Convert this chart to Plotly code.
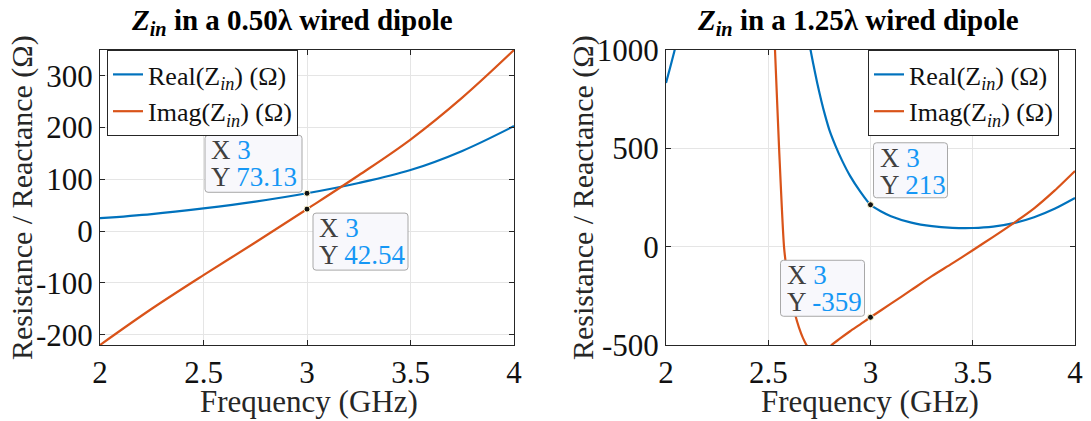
import plotly.graph_objects as go

# Input impedance of a 0.50-wavelength dipole (resonant at 3 GHz)
freq_half = [2.0, 2.25, 2.5, 2.75, 3.0, 3.25, 3.5, 3.75, 4.0]
real_half = [25, 33, 44, 57, 73.13, 93, 118, 155, 203]
imag_half = [-220, -150, -85, -22, 42.54, 108, 177, 258, 350]

# Input impedance of a 1.25-wavelength dipole
freq_long_re = [2.0, 2.02, 2.04, 2.07, 2.1, 2.2, 2.3, 2.4, 2.45, 2.5, 2.55, 2.6,
                2.65, 2.7, 2.72, 2.74, 2.76, 2.78, 2.8, 2.83, 2.86, 2.9, 2.95,
                3.0, 3.05, 3.1, 3.2, 3.3, 3.4, 3.5, 3.6, 3.7, 3.8, 3.9, 4.0]
real_long = [832, 910, 990, 1120, 1260, 1900, 2700, 3300, 3400, 3200, 2600, 1900,
             1420, 1040, 930, 830, 740, 660, 590, 510, 440, 360, 280,
             213, 180, 155, 122, 104, 96, 95, 102, 120, 150, 193, 248]
freq_long_im = [2.0, 2.1, 2.2, 2.3, 2.4, 2.45, 2.5, 2.52, 2.533, 2.553, 2.577,
                2.59, 2.606, 2.63, 2.65, 2.67, 2.69, 2.72, 2.75, 2.78, 2.81,
                2.85, 2.9, 2.95, 3.0, 3.1, 3.2, 3.3, 3.4, 3.5, 3.6, 3.7, 3.8,
                3.9, 4.0]
imag_long = [1300, 1800, 2300, 2600, 2500, 2200, 1750, 1300, 1000, 500, 0,
             -120, -236, -340, -410, -465, -505, -540, -550, -535, -500,
             -468, -430, -395, -359, -290, -220, -150, -85, -18, 50, 120, 195,
             285, 385]

# Data tips at 3 GHz
tip_freq = 3
tip_half = [73.13, 42.54]
tip_long = [213, -359]

x_ticks = [2, 2.5, 3, 3.5, 4]
y_ticks_half = [-200, -100, 0, 100, 200, 300]
y_ticks_long = [-500, 0, 500, 1000]

BLUE = "#0072BD"
ORANGE = "#D95319"
TIP_BLUE = "#1597f5"
FONT = "Liberation Serif"
W, H = 1091, 421


def px(x):
    return x / W


def py(y):
    return 1 - y / H


fig = go.Figure()

fig.add_trace(go.Scatter(x=freq_half, y=real_half, mode="lines",
                         line=dict(color=BLUE, width=2.2, shape="spline"),
                         name="Real(Z<sub><i>in</i></sub>) (Ω)",
                         xaxis="x", yaxis="y", legend="legend"))
fig.add_trace(go.Scatter(x=freq_half, y=imag_half, mode="lines",
                         line=dict(color=ORANGE, width=2.2, shape="spline"),
                         name="Imag(Z<sub><i>in</i></sub>) (Ω)",
                         xaxis="x", yaxis="y", legend="legend"))
fig.add_trace(go.Scatter(x=freq_long_re, y=real_long, mode="lines",
                         line=dict(color=BLUE, width=2.2, shape="spline", smoothing=0.7),
                         name="Real(Z<sub><i>in</i></sub>) (Ω)",
                         xaxis="x2", yaxis="y2", legend="legend2"))
fig.add_trace(go.Scatter(x=freq_long_im, y=imag_long, mode="lines",
                         line=dict(color=ORANGE, width=2.2, shape="spline", smoothing=0.7),
                         name="Imag(Z<sub><i>in</i></sub>) (Ω)",
                         xaxis="x2", yaxis="y2", legend="legend2"))

axis_common = dict(
    showline=True, linecolor="#262626", linewidth=1, mirror="ticks",
    ticks="inside", ticklen=5, tickcolor="#262626", automargin=False,
    showgrid=True, gridcolor="#e5e5e5", gridwidth=1, zeroline=False,
    tickfont=dict(family=FONT, size=31, color="#111111"),
)

legend_common = dict(
    xanchor="left", yanchor="top", bgcolor="white", bordercolor="#262626",
    borderwidth=1, font=dict(family=FONT, size=26, color="#111111"),
)

fig.update_layout(
    width=W, height=H,
    margin=dict(l=0, r=0, t=0, b=0, pad=0, autoexpand=False),
    paper_bgcolor="white", plot_bgcolor="white",
    font=dict(family=FONT, color="#111111"),
    xaxis=dict(domain=[px(100), px(514)], range=[2, 4], tickvals=x_ticks,
               ticktext=[f"{v:g}" for v in x_ticks], anchor="y", **axis_common),
    yaxis=dict(domain=[py(345), py(50)], range=[-220, 350], tickvals=y_ticks_half,
               ticktext=[f"{v:d}" for v in y_ticks_half], anchor="x", **axis_common),
    xaxis2=dict(domain=[px(666), px(1075)], range=[2, 4], tickvals=x_ticks,
                ticktext=[f"{v:g}" for v in x_ticks], anchor="y2", **axis_common),
    yaxis2=dict(domain=[py(345), py(50)], range=[-500, 1000], tickvals=y_ticks_long,
                ticktext=[f"{v:d}" for v in y_ticks_long], anchor="x2", **axis_common),
    legend=dict(x=px(107), y=py(50), **legend_common),
    legend2=dict(x=px(868), y=py(50), **legend_common),
    showlegend=True,
)

annotations = []
shapes = []

# titles
for cx, txt in [(292, "0.50λ"), (858, "1.25λ")]:
    annotations.append(dict(
        x=px(cx), y=py(22), xref="paper", yref="paper", showarrow=False,
        xanchor="center", yanchor="middle",
        text=f"<b><i>Z</i><sub><i>in</i></sub> in a {txt} wired dipole</b>",
        font=dict(family=FONT, size=29, color="black")))

# axis titles
for cx in [309, 870]:
    annotations.append(dict(
        x=px(cx), y=py(401), xref="paper", yref="paper", showarrow=False,
        xanchor="center", yanchor="middle", text="Frequency (GHz)",
        font=dict(family=FONT, size=31, color="#262626")))
for cx in [22, 583]:
    annotations.append(dict(
        x=px(cx), y=py(198), xref="paper", yref="paper", showarrow=False,
        xanchor="center", yanchor="middle", textangle=-90,
        text="Resistance / Reactance (Ω)",
        font=dict(family=FONT, size=30, color="#262626")))


def rounded_box(x0, x1, y0, y1, r=3):
    # y offsets are in pixels, positive upward
    return (f"M {x0 + r},{y1} L {x1 - r},{y1} Q {x1},{y1} {x1},{y1 - r} "
            f"L {x1},{y0 + r} Q {x1},{y0} {x1 - r},{y0} L {x0 + r},{y0} "
            f"Q {x0},{y0} {x0},{y0 + r} L {x0},{y1 - r} Q {x0},{y1} {x0 + r},{y1} Z")


def add_tip(xref, yref, yv, bx0, bx1, by0, by1):
    # box, given as pixel offsets from the data point
    shapes.append(dict(
        type="path", xref=xref, yref=yref, xsizemode="pixel", ysizemode="pixel",
        xanchor=tip_freq, yanchor=yv, path=rounded_box(bx0, bx1, by0, by1),
        fillcolor="#f8f8fc", line=dict(color="#a8a8a8", width=1), layer="above"))
    for i, (lab, val) in enumerate([("X", f"{tip_freq:g}"), ("Y", f"{yv:g}")]):
        annotations.append(dict(
            x=tip_freq, y=yv, xref=xref, yref=yref, showarrow=False,
            xanchor="left", yanchor="middle", xshift=bx0 + 4,
            yshift=by1 - 15 - 27 * i, align="left",
            text=f"{lab} <span style='color:{TIP_BLUE}'>{val}</span>",
            font=dict(family=FONT, size=27, color="#404040")))


add_tip("x", "y", tip_half[0], -102, -5, 1, 58)
add_tip("x", "y", tip_half[1], 6, 101, -61, -4)
add_tip("x2", "y2", tip_long[0], 3, 77, 7, 62)
add_tip("x2", "y2", tip_long[1], -90, -6, 1, 57)

# data-tip markers, drawn over the lines
for xa, ya, vals in [("x", "y", tip_half), ("x2", "y2", tip_long)]:
    fig.add_trace(go.Scatter(x=[tip_freq] * len(vals), y=vals, mode="markers",
                             marker=dict(color="#111111", size=6,
                                         line=dict(color="#fff8d0", width=1)),
                             showlegend=False, xaxis=xa, yaxis=ya,
                             hoverinfo="skip"))

fig.update_layout(annotations=annotations, shapes=shapes)

fig.write_html("out.html")
